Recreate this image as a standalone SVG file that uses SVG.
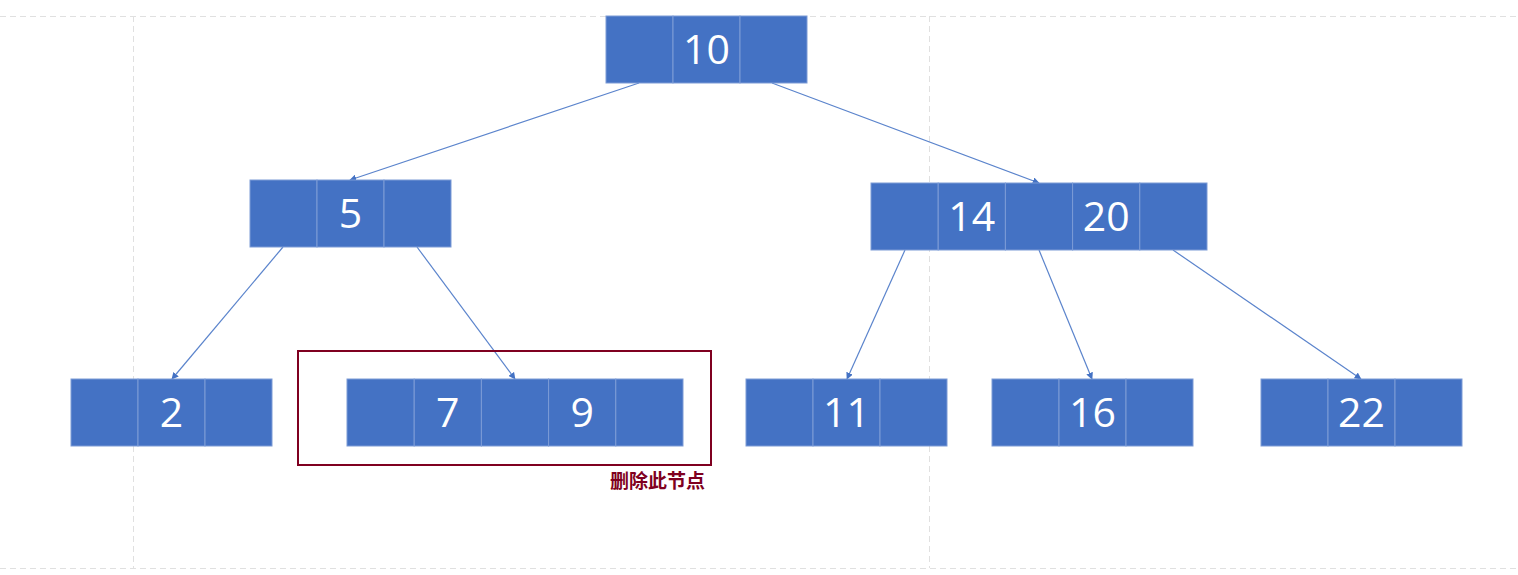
<svg xmlns="http://www.w3.org/2000/svg" width="1518" height="575" viewBox="0 0 1518 575">
<defs>
<style>
.cell{fill:#4472C4;stroke:#7C9BD6;stroke-width:1}
.num{font-family:"Open Sans","Liberation Sans",sans-serif;font-size:41px;fill:#FFFFFF;text-anchor:middle}
.guide{stroke:#E0E0E0;stroke-width:1;stroke-dasharray:6,4;fill:none}
.edge{stroke:#5B84CC;stroke-width:1.2;fill:none;marker-end:url(#arr)}
</style>
<marker id="arr" viewBox="0 0 10 10" refX="9" refY="5" markerWidth="7" markerHeight="7" markerUnits="userSpaceOnUse" orient="auto">
<path d="M0,0 L10,5 L0,10 z" fill="#4472C4"/>
</marker>
</defs>
<rect width="1518" height="575" fill="#FFFFFF"/>
<g id="guides">
<line class="guide" x1="0" y1="16.5" x2="1518" y2="16.5"/>
<line class="guide" x1="0" y1="568.5" x2="1518" y2="568.5"/>
<line class="guide" x1="133.5" y1="16" x2="133.5" y2="568"/>
<line class="guide" x1="929.5" y1="16" x2="929.5" y2="568"/>
</g>
<g id="connectors">
<line class="edge" x1="639" y1="83" x2="350" y2="180"/>
<line class="edge" x1="772" y1="83" x2="1039" y2="183"/>
<line class="edge" x1="283" y1="247" x2="172" y2="379"/>
<line class="edge" x1="417" y1="247" x2="515" y2="379"/>
<line class="edge" x1="905" y1="250" x2="847" y2="379"/>
<line class="edge" x1="1039" y1="250" x2="1092" y2="379"/>
<line class="edge" x1="1173" y1="250" x2="1361" y2="379"/>
</g>
<g id="node-10">
<rect class="cell" x="606" y="16" width="67" height="67"/>
<rect class="cell" x="673" y="16" width="67" height="67"/>
<rect class="cell" x="740" y="16" width="67" height="67"/>
<text class="num" x="706.5" y="64">10</text>
</g>
<g id="node-5">
<rect class="cell" x="250" y="180" width="67" height="67"/>
<rect class="cell" x="317" y="180" width="67" height="67"/>
<rect class="cell" x="384" y="180" width="67" height="67"/>
<text class="num" x="350.5" y="228">5</text>
</g>
<g id="node-14-20">
<rect class="cell" x="871" y="183" width="67.2" height="67"/>
<rect class="cell" x="938.2" y="183" width="67.2" height="67"/>
<rect class="cell" x="1005.4" y="183" width="67.2" height="67"/>
<rect class="cell" x="1072.6" y="183" width="67.2" height="67"/>
<rect class="cell" x="1139.8" y="183" width="67.2" height="67"/>
<text class="num" x="971.8" y="231">14</text>
<text class="num" x="1106.2" y="231">20</text>
</g>
<g id="node-2">
<rect class="cell" x="71" y="379" width="67" height="67"/>
<rect class="cell" x="138" y="379" width="67" height="67"/>
<rect class="cell" x="205" y="379" width="67" height="67"/>
<text class="num" x="171.5" y="427">2</text>
</g>
<g id="node-7-9">
<rect class="cell" x="347" y="379" width="67.2" height="67"/>
<rect class="cell" x="414.2" y="379" width="67.2" height="67"/>
<rect class="cell" x="481.4" y="379" width="67.2" height="67"/>
<rect class="cell" x="548.6" y="379" width="67.2" height="67"/>
<rect class="cell" x="615.8" y="379" width="67.2" height="67"/>
<text class="num" x="447.8" y="427">7</text>
<text class="num" x="582.2" y="427">9</text>
</g>
<g id="node-11">
<rect class="cell" x="746" y="379" width="67" height="67"/>
<rect class="cell" x="813" y="379" width="67" height="67"/>
<rect class="cell" x="880" y="379" width="67" height="67"/>
<text class="num" x="846.5" y="427">11</text>
</g>
<g id="node-16">
<rect class="cell" x="992" y="379" width="67" height="67"/>
<rect class="cell" x="1059" y="379" width="67" height="67"/>
<rect class="cell" x="1126" y="379" width="67" height="67"/>
<text class="num" x="1092.5" y="427">16</text>
</g>
<g id="node-22">
<rect class="cell" x="1261" y="379" width="67" height="67"/>
<rect class="cell" x="1328" y="379" width="67" height="67"/>
<rect class="cell" x="1395" y="379" width="67" height="67"/>
<text class="num" x="1361.5" y="427">22</text>
</g>
<g id="delete-box">
<rect x="298" y="351" width="413" height="114" fill="none" stroke="#7F0020" stroke-width="2"/>
<text x="705" y="488" text-anchor="end" font-family="'Noto Sans CJK SC',sans-serif" font-size="19" font-weight="bold" fill="#7F0020">删除此节点</text>
</g>
</svg>
